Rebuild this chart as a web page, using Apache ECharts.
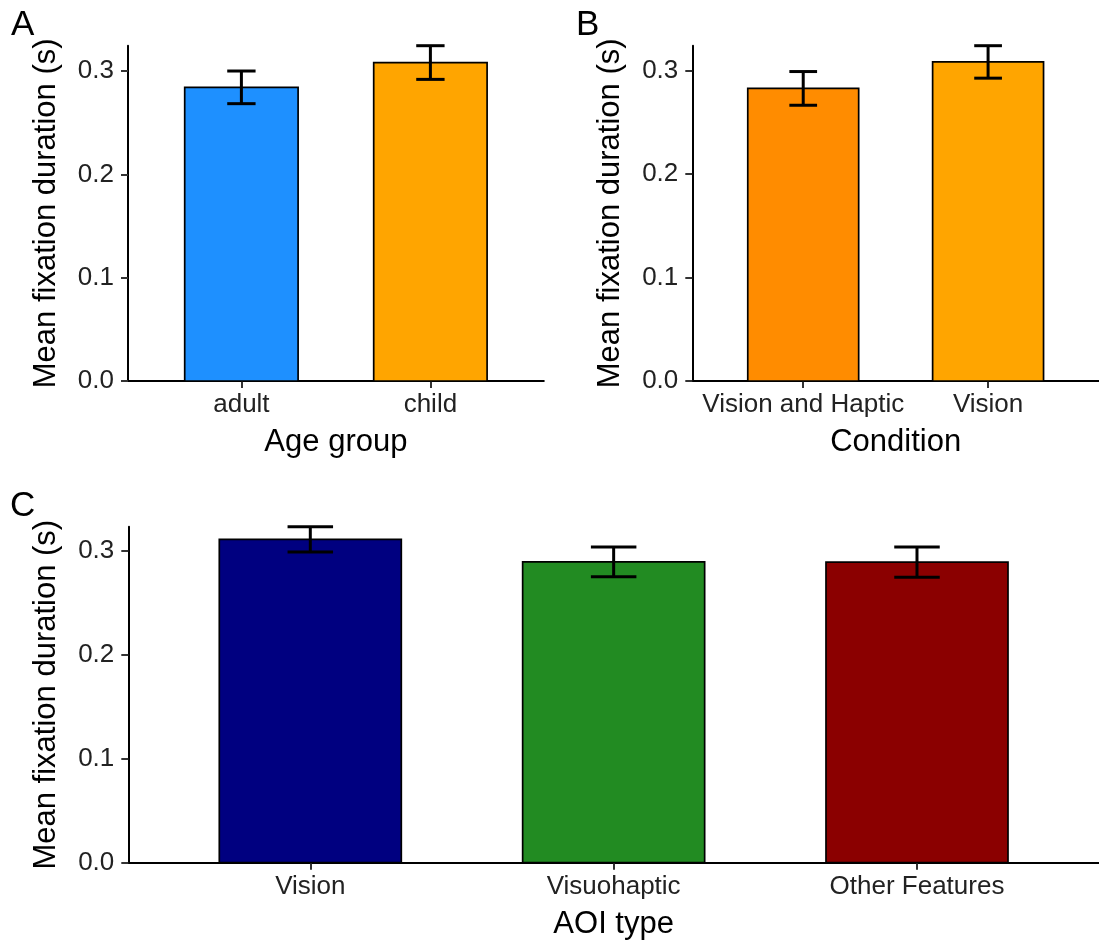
<!DOCTYPE html>
<html>
<head>
<meta charset="utf-8">
<script src="https://cdn.jsdelivr.net/npm/echarts@6/dist/echarts.min.js"></script>
<style>
  html, body { margin: 0; padding: 0; background: #ffffff; }
  #chart { width: 1099px; height: 942px; }
</style>
</head>
<body>
<div id="chart"></div>
<script>
// Panel A: mean fixation duration by age group (mean and standard error, seconds)
const ageGroups = ['adult', 'child'];
const ageMeans = [0.2842, 0.3082];
const ageSE = [0.0158, 0.0163];

// Panel B: by viewing condition
const conditions = ['Vision and Haptic', 'Vision'];
const conditionMeans = [0.2830, 0.3086];
const conditionSE = [0.0163, 0.0157];

// Panel C: by area-of-interest type
const aoiTypes = ['Vision', 'Visuohaptic', 'Other Features'];
const aoiMeans = [0.3112, 0.2896, 0.2893];
const aoiSE = [0.0122, 0.0143, 0.0146];

// Shared y tick values
const yTicks = [0, 0.1, 0.2, 0.3];

// Fill colours per bar
const ageColors = ['#1E90FF', '#FFA500'];
const conditionColors = ['#FF8C00', '#FFA500'];
const aoiColors = ['#000080', '#228B22', '#8B0000'];

const FONT = '"Liberation Sans", Arial, Helvetica, sans-serif';
const BAR_HALF = 0.3;     // bar width 0.6 in category units
const CAP_HALF = 0.075;   // error bar cap width 0.15

const panels = [
  { letter: 'A', cats: ageGroups, means: ageMeans, se: ageSE, colors: ageColors, xName: 'Age group',
    grid: { left: 128, width: 415.8, top: 45.7, height: 335.3 }, letterPos: { left: 11, top: 8 } },
  { letter: 'B', cats: conditions, means: conditionMeans, se: conditionSE, colors: conditionColors, xName: 'Condition',
    grid: { left: 692.3, width: 414.5, top: 45.7, height: 335.3 }, letterPos: { left: 576, top: 8 } },
  { letter: 'C', cats: aoiTypes, means: aoiMeans, se: aoiSE, colors: aoiColors, xName: 'AOI type',
    grid: { left: 128.3, width: 979, top: 526.7, height: 336 }, letterPos: { left: 10, top: 489 } }
];

const grids = [], xAxes = [], yAxes = [], series = [], titles = [];

panels.forEach((p, i) => {
  const positions = p.cats.map((_, k) => k + 1);
  const yMax = Math.max(...p.means.map((m, k) => m + p.se[k]));

  grids.push(Object.assign({ containLabel: false }, p.grid));

  titles.push({
    text: p.letter, left: p.letterPos.left, top: p.letterPos.top, padding: 0,
    textStyle: { fontFamily: FONT, fontSize: 35, fontWeight: 'normal', color: '#000' }
  });

  xAxes.push({
    type: 'value', gridIndex: i, min: 0.4, max: p.cats.length + 0.6,
    axisLine: { show: true, onZero: false, lineStyle: { color: '#000', width: 2 } },
    axisTick: { show: true, customValues: positions, length: 7, lineStyle: { color: '#333', width: 2 } },
    axisLabel: {
      customValues: positions, formatter: v => p.cats[Math.round(v) - 1],
      fontFamily: FONT, fontSize: 26, color: '#222', margin: 11
    },
    splitLine: { show: false },
    name: p.xName, nameLocation: 'middle', nameGap: 46,
    nameTextStyle: { fontFamily: FONT, fontSize: 31, color: '#000' }
  });

  yAxes.push({
    type: 'value', gridIndex: i, min: 0, max: yMax,
    axisLine: { show: true, onZero: false, lineStyle: { color: '#000', width: 2 } },
    axisTick: { show: true, customValues: yTicks, length: 7, lineStyle: { color: '#333', width: 2 } },
    axisLabel: {
      customValues: yTicks, formatter: v => v.toFixed(1),
      fontFamily: FONT, fontSize: 26, color: '#222', margin: 14
    },
    splitLine: { show: false },
    name: 'Mean fixation duration (s)', nameLocation: 'middle', nameGap: 66, nameRotate: 90,
    nameTextStyle: { fontFamily: FONT, fontSize: 31, color: '#000' }
  });

  // Bars
  series.push({
    type: 'custom', xAxisIndex: i, yAxisIndex: i, z: 2,
    encode: { x: 0, y: 1 },
    data: p.means.map((m, k) => ({ value: [k + 1, m], itemStyle: { color: p.colors[k] } })),
    renderItem: (params, api) => {
      const x = api.value(0), v = api.value(1);
      const tl = api.coord([x - BAR_HALF, v]);
      const br = api.coord([x + BAR_HALF, 0]);
      return {
        type: 'rect',
        shape: { x: tl[0], y: tl[1], width: br[0] - tl[0], height: br[1] - tl[1] },
        style: { fill: api.visual('color'), stroke: '#000', lineWidth: 1.7 }
      };
    }
  });

  // Error bars (mean ± SE)
  series.push({
    type: 'custom', xAxisIndex: i, yAxisIndex: i, z: 3, clip: false,
    encode: { x: 0, y: [1, 2] },
    data: p.means.map((m, k) => [k + 1, m - p.se[k], m + p.se[k]]),
    renderItem: (params, api) => {
      const x = api.value(0), lo = api.value(1), hi = api.value(2);
      const pLo = api.coord([x, lo]), pHi = api.coord([x, hi]);
      const capL = api.coord([x - CAP_HALF, lo])[0], capR = api.coord([x + CAP_HALF, lo])[0];
      const st = { stroke: '#000', lineWidth: 3 };
      return {
        type: 'group',
        children: [
          { type: 'line', shape: { x1: pLo[0], y1: pLo[1], x2: pHi[0], y2: pHi[1] }, style: st },
          { type: 'line', shape: { x1: capL, y1: pLo[1], x2: capR, y2: pLo[1] }, style: st },
          { type: 'line', shape: { x1: capL, y1: pHi[1], x2: capR, y2: pHi[1] }, style: st }
        ]
      };
    }
  });
});

const chart = echarts.init(document.getElementById('chart'), null, { renderer: 'canvas' });
chart.setOption({
  animation: false,
  backgroundColor: '#ffffff',
  title: titles,
  grid: grids,
  xAxis: xAxes,
  yAxis: yAxes,
  series: series
});
</script>
</body>
</html>
